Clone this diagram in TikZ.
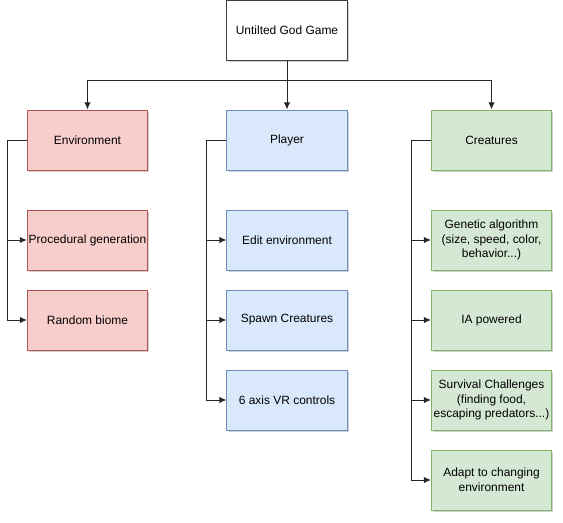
\documentclass[tikz,border=0pt]{standalone}
\usepackage{fontspec}
\setmainfont{Liberation Sans}
\usetikzlibrary{arrows.meta,shadows}
\definecolor{envfill}{HTML}{F8CECC}
\definecolor{envline}{HTML}{B85450}
\definecolor{plfill}{HTML}{DAE8FC}
\definecolor{plline}{HTML}{6C8EBF}
\definecolor{crfill}{HTML}{D5E8D4}
\definecolor{crline}{HTML}{82B366}
\begin{document}
\begin{tikzpicture}[
    x=0.025cm, y=-0.025cm,
    box/.style={rectangle, minimum width=3cm, minimum height=1.5cm, inner sep=1pt,
        align=center, font=\fontsize{8.5}{10.5}\selectfont, line width=0.7pt,
        drop shadow={shadow xshift=1.2pt, shadow yshift=-1.2pt, opacity=0.18, fill=black}},
    root/.style={box, draw=black!75, fill=white},
    envbox/.style={box, draw=envline, fill=envfill},
    plbox/.style={box, draw=plline, fill=plfill},
    crbox/.style={box, draw=crline, fill=crfill},
    link/.style={-{Latex[length=5pt,width=4.5pt]}, line width=0.7pt, black!85}
]
\useasboundingbox (0,0) rectangle (563,522);
% top level
\node[root] (game) at (287,30) {Untilted God Game};
\node[envbox] (env) at (87.5,140) {Environment};
\node[plbox] (player) at (287,140) {Player};
\node[crbox] (creat) at (491.5,140) {Creatures};
\draw[link] (game.south) -- (player.north);
\draw[link] (game.south) -- ++(0,20) -| (env.north);
\draw[link] (game.south) -- ++(0,20) -| (creat.north);
% environment
\foreach \name/\y/\txt in {procgen/240/Procedural generation, biome/320/Random biome} {
    \node[envbox] (\name) at (87.5,\y) {\txt};
    \draw[link] (env.west) -- ++(-20,0) |- (\name.west);
}
% player
\foreach \name/\y/\txt in {edit/240/Edit environment, spawn/320/Spawn Creatures, vr/400/6 axis VR controls} {
    \node[plbox] (\name) at (287,\y) {\txt};
    \draw[link] (player.west) -- ++(-20,0) |- (\name.west);
}
% creatures
\foreach \name/\y/\txt in {genetic/240/{Genetic algorithm\\(size, speed, color,\\behavior...)},
    ia/320/IA powered,
    survival/400/{Survival Challenges\\(finding food,\\escaping predators...)},
    adapt/480/{Adapt to changing\\environment}} {
    \node[crbox] (\name) at (491.5,\y) {\txt};
    \draw[link] (creat.west) -- ++(-20,0) |- (\name.west);
}
\end{tikzpicture}
\end{document}
